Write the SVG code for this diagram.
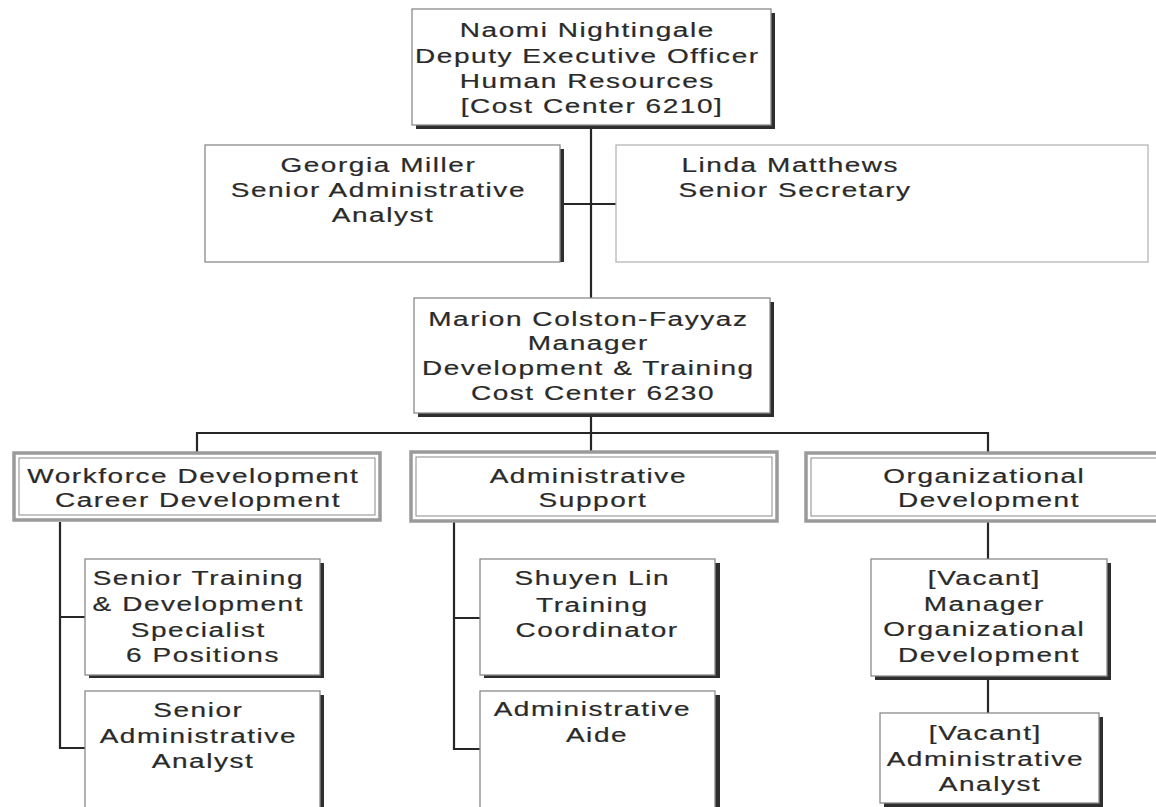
<svg xmlns="http://www.w3.org/2000/svg" width="1156" height="807" viewBox="0 0 1156 807">
  <style>
    .box { fill: #ffffff; stroke: #8a8a8a; stroke-width: 1.3; }
    .faint { fill: #ffffff; stroke: #b0b0b0; stroke-width: 1.2; }
    .shadow { fill: #2e2e2e; }
    .hdr-out { fill: #ffffff; stroke: #9a9a9a; stroke-width: 3.5; }
    .hdr-in { fill: none; stroke: #8a8a8a; stroke-width: 1; }
    .conn { fill: none; stroke: #262626; stroke-width: 2.2; }
    .lbl { font-family: "Liberation Sans", Arial, sans-serif; font-size: 20px; fill: #2a2a2a; stroke: #2a2a2a; stroke-width: 0.2; text-anchor: middle; letter-spacing: 1.1px; }
  </style>
  <rect width="1156" height="807" fill="#ffffff"/>

  <g id="connectors">
    <line class="conn" x1="591" y1="125" x2="591" y2="298"/>
    <line class="conn" x1="563" y1="204" x2="616" y2="204"/>
    <line class="conn" x1="591" y1="413" x2="591" y2="451"/>
    <line class="conn" x1="197" y1="433" x2="988" y2="433"/>
    <line class="conn" x1="197" y1="432" x2="197" y2="452"/>
    <line class="conn" x1="988" y1="432" x2="988" y2="452"/>
    <polyline class="conn" points="85,617 60,617 60,522 60,748 85,748"/>
    <polyline class="conn" points="480,618 454,618 454,522 454,749 480,749"/>
    <line class="conn" x1="988" y1="522" x2="988" y2="559"/>
    <line class="conn" x1="988" y1="676" x2="988" y2="713"/>
  </g>

  <g id="naomi">
    <rect class="shadow" x="416" y="13" width="359" height="116"/>
    <rect class="box" x="412" y="9" width="359" height="116"/>
    <text class="lbl" transform="translate(592 0) scale(1.4 1)">
      <tspan x="0" y="37">Naomi Nightingale</tspan>
      <tspan x="0" y="63">Deputy Executive Officer</tspan>
      <tspan x="0" y="88">Human Resources</tspan>
      <tspan x="0" y="113">[Cost Center 6210]</tspan>
    </text>
  </g>

  <g id="georgia">
    <rect class="shadow" x="209" y="149" width="355" height="113"/>
    <rect class="box" x="205" y="145" width="355" height="117"/>
    <text class="lbl" transform="translate(383 0) scale(1.4 1)">
      <tspan x="0" y="172">Georgia Miller</tspan>
      <tspan x="0" y="197">Senior Administrative</tspan>
      <tspan x="0" y="222">Analyst</tspan>
    </text>
  </g>

  <g id="linda">
    <rect class="faint" x="616" y="145" width="532" height="117"/>
    <text class="lbl" transform="translate(795 0) scale(1.4 1)">
      <tspan x="0" y="172">Linda Matthews</tspan>
      <tspan x="0" y="197">Senior Secretary</tspan>
    </text>
  </g>

  <g id="marion">
    <rect class="shadow" x="418" y="302" width="356" height="115"/>
    <rect class="box" x="414" y="298" width="356" height="115"/>
    <text class="lbl" transform="translate(593 0) scale(1.4 1)">
      <tspan x="0" y="326">Marion Colston-Fayyaz</tspan>
      <tspan x="0" y="350">Manager</tspan>
      <tspan x="0" y="375">Development &amp; Training</tspan>
      <tspan x="0" y="400">Cost Center 6230</tspan>
    </text>
  </g>

  <g id="workforce">
    <rect class="hdr-out" x="14" y="453" width="366" height="67"/>
    <rect class="hdr-in" x="19" y="458" width="356" height="57"/>
    <text class="lbl" transform="translate(198 0) scale(1.4 1)">
      <tspan x="0" y="483">Workforce Development</tspan>
      <tspan x="0" y="507">Career Development</tspan>
    </text>
  </g>

  <g id="admin-support">
    <rect class="hdr-out" x="411" y="452" width="366" height="69"/>
    <rect class="hdr-in" x="416" y="457" width="356" height="59"/>
    <text class="lbl" transform="translate(593 0) scale(1.4 1)">
      <tspan x="0" y="483">Administrative</tspan>
      <tspan x="0" y="507">Support</tspan>
    </text>
  </g>

  <g id="org-dev">
    <rect class="hdr-out" x="806" y="453" width="360" height="68"/>
    <rect class="hdr-in" x="811" y="458" width="350" height="58"/>
    <text class="lbl" transform="translate(989 0) scale(1.4 1)">
      <tspan x="0" y="483">Organizational</tspan>
      <tspan x="0" y="507">Development</tspan>
    </text>
  </g>

  <g id="senior-training">
    <rect class="shadow" x="89" y="563" width="235" height="115"/>
    <rect class="box" x="85" y="559" width="235" height="116"/>
    <text class="lbl" transform="translate(203 0) scale(1.4 1)">
      <tspan x="0" y="585">Senior Training</tspan>
      <tspan x="0" y="611">&amp; Development</tspan>
      <tspan x="0" y="637">Specialist</tspan>
      <tspan x="0" y="662">6 Positions</tspan>
    </text>
  </g>

  <g id="senior-admin-analyst">
    <rect class="shadow" x="89" y="695" width="235" height="120"/>
    <rect class="box" x="85" y="691" width="235" height="122"/>
    <text class="lbl" transform="translate(203 0) scale(1.4 1)">
      <tspan x="0" y="717">Senior</tspan>
      <tspan x="0" y="743">Administrative</tspan>
      <tspan x="0" y="768">Analyst</tspan>
    </text>
  </g>

  <g id="shuyen">
    <rect class="shadow" x="484" y="563" width="236" height="115"/>
    <rect class="box" x="480" y="559" width="235" height="116"/>
    <text class="lbl" transform="translate(597 0) scale(1.4 1)">
      <tspan x="0" y="585">Shuyen Lin</tspan>
      <tspan x="0" y="612">Training</tspan>
      <tspan x="0" y="637">Coordinator</tspan>
    </text>
  </g>

  <g id="admin-aide">
    <rect class="shadow" x="484" y="695" width="236" height="120"/>
    <rect class="box" x="480" y="691" width="235" height="122"/>
    <text class="lbl" transform="translate(597 0) scale(1.4 1)">
      <tspan x="0" y="716">Administrative</tspan>
      <tspan x="0" y="742">Aide</tspan>
    </text>
  </g>

  <g id="vacant-manager">
    <rect class="shadow" x="875" y="563" width="236" height="117"/>
    <rect class="box" x="871" y="559" width="236" height="117"/>
    <text class="lbl" transform="translate(989 0) scale(1.4 1)">
      <tspan x="0" y="585">[Vacant]</tspan>
      <tspan x="0" y="611">Manager</tspan>
      <tspan x="0" y="636">Organizational</tspan>
      <tspan x="0" y="662">Development</tspan>
    </text>
  </g>

  <g id="vacant-analyst">
    <rect class="shadow" x="884" y="717" width="219" height="90"/>
    <rect class="box" x="880" y="713" width="219" height="90"/>
    <text class="lbl" transform="translate(990 0) scale(1.4 1)">
      <tspan x="0" y="740">[Vacant]</tspan>
      <tspan x="0" y="766">Administrative</tspan>
      <tspan x="0" y="791">Analyst</tspan>
    </text>
  </g>
</svg>
